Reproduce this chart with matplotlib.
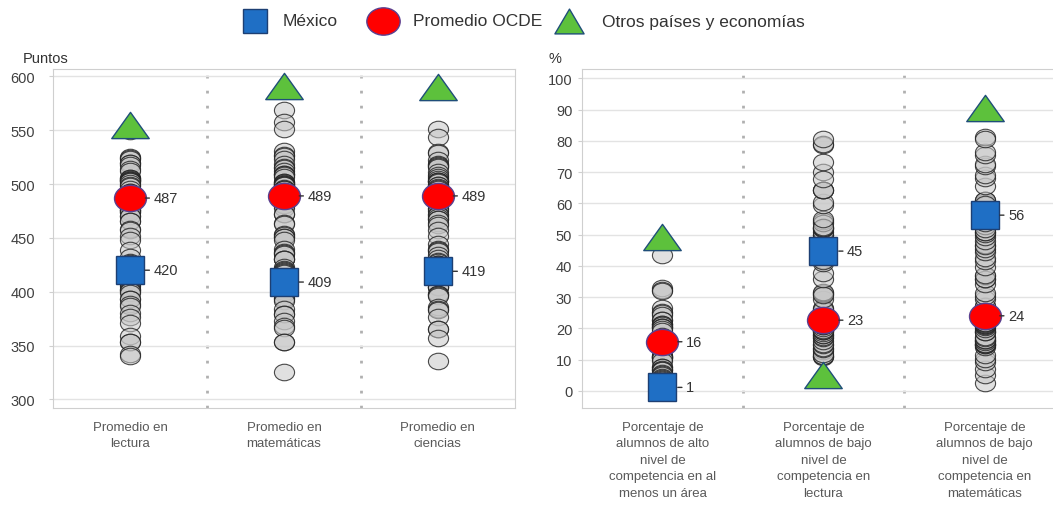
import matplotlib
matplotlib.use("Agg")
from matplotlib import pyplot as plt
from matplotlib.path import Path
from matplotlib.lines import Line2D

plt.rcParams['font.family'] = ['Liberation Sans', 'DejaVu Sans']

# --- datos (puntos) ---
cat_puntos = ['Promedio en\nlectura', 'Promedio en\nmatemáticas', 'Promedio en\nciencias']
lectura = [549, 525, 524, 523, 520, 520, 518, 514, 512, 506, 506, 505, 504, 504, 503, 503,
           501, 499, 498, 495, 493, 493, 492, 490, 485, 484, 484, 479, 479, 479, 476, 476,
           476, 474, 474, 470, 470, 466, 466, 458, 457, 452, 448, 439, 432, 428, 427, 426,
           424, 424, 421, 420, 419, 415, 413, 412, 408, 407, 405, 403, 402, 401, 399, 393,
           393, 389, 387, 380, 377, 371, 359, 353, 353, 342, 340]
matematicas = [569, 558, 551, 531, 527, 526, 523, 519, 516, 515, 512, 509, 509, 508, 507,
               502, 502, 501, 500, 500, 499, 499, 496, 495, 495, 494, 492, 491, 488, 487,
               486, 483, 481, 481, 481, 478, 472, 472, 464, 463, 454, 453, 451, 451, 448,
               440, 437, 436, 435, 430, 430, 430, 423, 421, 420, 419, 418, 417, 414, 406,
               402, 400, 400, 398, 394, 393, 391, 384, 379, 379, 373, 368, 366, 353, 353, 325]
ciencias = [551, 544, 530, 529, 522, 519, 518, 517, 516, 511, 508, 507, 505, 503, 503, 503,
            502, 499, 499, 497, 496, 495, 493, 493, 492, 490, 490, 487, 483, 482, 481, 478,
            477, 475, 472, 471, 469, 468, 468, 464, 462, 457, 452, 444, 440, 439, 438, 434,
            431, 429, 428, 426, 426, 426, 424, 419, 417, 416, 415, 413, 413, 404, 404, 404,
            398, 398, 397, 396, 386, 384, 383, 377, 365, 365, 357, 336]
mexico_puntos = [420, 409, 419]
ocde_puntos = [487, 489, 489]
otros_puntos = [555, 591, 590]

# --- datos (%) ---
cat_pct = ['Porcentaje de\nalumnos de alto\nnivel de\ncompetencia en al\nmenos un área',
           'Porcentaje de\nalumnos de bajo\nnivel de\ncompetencia en\nlectura',
           'Porcentaje de\nalumnos de bajo\nnivel de\ncompetencia en\nmatemáticas']
alto_nivel = [43.3, 32.8, 32.3, 31.8, 26.6, 25.2, 24.8, 24.1, 22.7, 22.5, 21.5, 21.5, 21.0,
              20.5, 20.3, 20.3, 19.9, 19.3, 17.6, 17.1, 16.9, 16.2, 16.2, 16.2, 15.9, 15.6,
              15.3, 15.2, 14.4, 13.6, 13.0, 11.3, 11.0, 10.8, 10.7, 10.5, 10.5, 9.4, 7.6,
              7.5, 7.0, 6.6, 6.6, 5.6, 5.4, 5.0, 4.4, 4.0, 3.8, 3.4, 2.7, 2.6, 2.5, 2.5,
              2.5, 2.4, 2.3, 2.0, 2.0, 1.9, 1.3, 1.1, 1.1, 1.0, 1.0, 0.9, 0.7, 0.6, 0.3,
              0.3, 0.3, 0.2, 0.1, 0.1, 0.0]
bajo_lectura = [10.8, 11.2, 12.6, 11.1, 11.8, 13.5, 13.8, 14.7, 15.1, 16.0, 16.8, 17.3, 17.8,
                17.9, 18.4, 19.0, 19.3, 19.3, 19.6, 20.2, 20.7, 20.7, 21.3, 20.9, 22.4, 22.1,
                21.6, 24.4, 23.6, 24.1, 23.6, 23.3, 23.4, 25.3, 26.4, 25.9, 26.1, 29.3, 31.1,
                31.4, 31.7, 30.5, 35.9, 37.7, 42.9, 41.9, 42.0, 40.8, 43.0, 43.7, 44.4, 45.8,
                47.1, 41.6, 50.0, 49.9, 50.9, 51.8, 52.2, 52.1, 54.4, 53.7, 52.4, 55.1, 59.5,
                60.4, 64.2, 64.4, 64.3, 69.9, 73.3, 67.8, 78.7, 79.1, 80.6]
bajo_matematicas = [2.4, 5.0, 7.1, 9.2, 10.2, 11.5, 14.0, 14.6, 14.7, 15.0, 15.0, 15.8, 15.7,
                    16.3, 16.4, 16.8, 19.2, 17.3, 18.9, 18.8, 19.7, 20.4, 20.7, 21.1, 21.1,
                    21.3, 21.6, 21.8, 22.4, 23.3, 23.8, 24.7, 25.1, 27.2, 25.6, 25.6, 27.1,
                    29.4, 30.2, 31.2, 34.1, 35.9, 36.7, 35.8, 36.9, 39.7, 41.5, 42.4, 44.4,
                    45.5, 46.6, 46.2, 47.9, 49.1, 50.3, 50.7, 50.7, 52.7, 51.9, 53.7, 57.6,
                    60.0, 60.3, 59.3, 61.1, 61.0, 59.8, 65.4, 68.1, 69.0, 71.9, 72.7, 75.6,
                    76.5, 81.2, 80.7]
mexico_pct = [1.1, 44.7, 56.2]
ocde_pct = [15.7, 22.6, 24.0]
otros_pct = [49.3, 5.2, 90.6]

leyenda = ['México', 'Promedio OCDE', 'Otros países y economías']

# marcadores
circ = Path.unit_circle()
elipse = Path(circ.vertices * [1, 0.82], circ.codes)
triangulo = Path([(0, 0.7), (-1, -0.7), (1, -0.7), (0, 0.7)],
                 [Path.MOVETO, Path.LINETO, Path.LINETO, Path.CLOSEPOLY])
triangulo_ley = Path([(0, 0.85), (-1, -0.85), (1, -0.85), (0, 0.85)],
                     [Path.MOVETO, Path.LINETO, Path.LINETO, Path.CLOSEPOLY])

gris = dict(marker=elipse, ms=14.5, mfc=(0.78, 0.78, 0.78, 0.55), mec=(0.12, 0.12, 0.12, 0.8),
            mew=0.8, ls='none', zorder=3)
estilo_mex = dict(marker='s', ms=20, mfc='#1f6fc5', mec='#1d3f73', mew=1.0, ls='none', zorder=6)
estilo_ocde = dict(marker=elipse, ms=23, mfc='#ff0000', mec='#5a3f8f', mew=1.0, ls='none', zorder=5)
estilo_otros = dict(marker=triangulo, ms=27, mfc='#5dc13c', mec='#1f4e79', mew=1.0, ls='none', zorder=4)

texto = '#404040'


def panel(ax, series, mex, ocde, otros, cats, ylim, yticks, unidad, pad, ux):
    for i, vals in enumerate(series):
        ax.plot([i] * len(vals), vals, **gris)
    xs = list(range(len(cats)))
    ax.plot(xs, otros, **estilo_otros)
    ax.plot(xs, ocde, **estilo_ocde)
    ax.plot(xs, mex, **estilo_mex)
    for i in xs:
        for v in (mex[i], ocde[i]):
            ax.annotate('%d' % round(v), xy=(i, v), xytext=(17, 0), textcoords='offset points',
                        va='center', ha='left', fontsize=10.5, color='#333333',
                        arrowprops=dict(arrowstyle='-', color='#333333', lw=1,
                                        shrinkA=1, shrinkB=11), zorder=7)
    for d in (0.5, 1.5):
        ax.axvline(d, color='#b0b0b0', lw=2, ls=(0, (1, 4.4)), zorder=1)
    ax.set_xlim(-0.5, 2.5)
    ax.set_ylim(*ylim)
    ax.set_yticks(yticks)
    ax.set_xticks(xs)
    ax.set_xticklabels(cats, fontsize=9.5, color='#595959', linespacing=1.5, va='top')
    ax.tick_params(axis='x', length=0, pad=9)
    ax.tick_params(axis='y', length=3, pad=pad, colors='#d0d0d0', labelcolor=texto, labelsize=10.5)
    ax.grid(axis='y', color='#e3e3e3', lw=1, zorder=0)
    for s in ax.spines.values():
        s.set_color('#cfcfcf')
    ax.text(ux, 1.012, unidad, transform=ax.transAxes, ha='left', va='bottom',
            fontsize=10.5, color='#333333')


fig = plt.figure(figsize=(10.53, 5.10), dpi=100)
ax1 = fig.add_axes([0.0503, 0.198, 0.4387, 0.665])
ax2 = fig.add_axes([0.5527, 0.198, 0.4587, 0.665])

panel(ax1, [lectura, matematicas, ciencias], mexico_puntos, ocde_puntos, otros_puntos,
      cat_puntos, (292, 607), range(300, 601, 50), 'Puntos', 10, -0.065)
panel(ax2, [alto_nivel, bajo_lectura, bajo_matematicas], mexico_pct, ocde_pct, otros_pct,
      cat_pct, (-5.5, 103), range(0, 101, 10), '%', 4, -0.07)

# leyenda a mano, arriba al centro
W, H = 1053.0, 510.0
ley_y = 1 - 22 / H
ley_estilos = [{**estilo_mex, 'ms': 17.5},
               {**estilo_ocde, 'ms': 24},
               {**estilo_otros, 'marker': triangulo_ley, 'ms': 21}]
ley_marca_x = [255, 383, 569]
ley_texto_x = [283, 413, 602]
for est, mx, tx, lab in zip(ley_estilos, ley_marca_x, ley_texto_x, leyenda):
    fig.add_artist(Line2D([mx / W], [ley_y], transform=fig.transFigure, **est))
    fig.text(tx / W, ley_y, lab, ha='left', va='center', fontsize=12.5, color='#333333')

fig.savefig('out.png', dpi=100)
